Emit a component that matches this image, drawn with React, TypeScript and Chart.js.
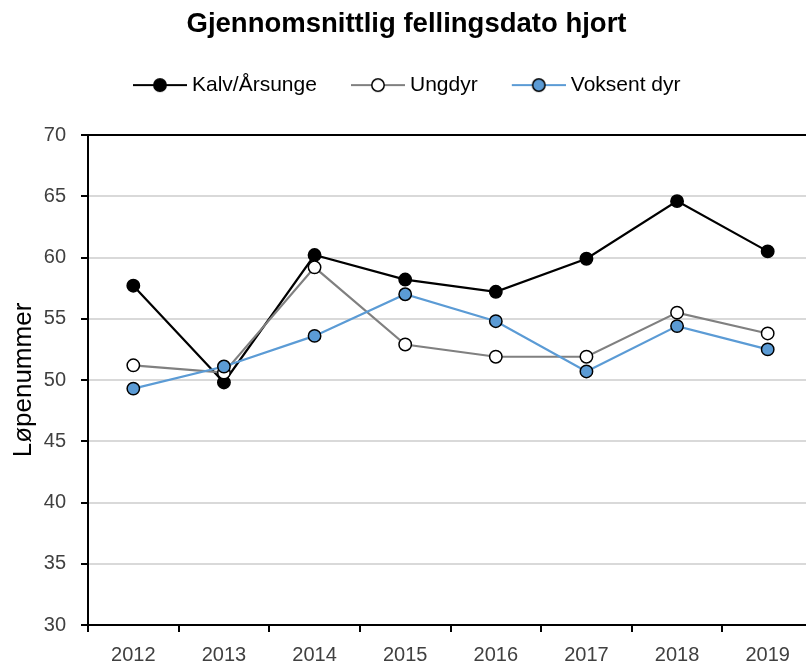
import React, { useEffect, useRef } from "react";
import { Chart, registerables } from "chart.js";

Chart.register(...registerables);

const years = ["2012", "2013", "2014", "2015", "2016", "2017", "2018", "2019"];
const kalv = [57.7, 49.8, 60.2, 58.2, 57.2, 59.9, 64.6, 60.5];
const ungdyr = [51.2, 50.6, 59.2, 52.9, 51.9, 51.9, 55.5, 53.8];
const voksent = [49.3, 51.1, 53.6, 57.0, 54.8, 50.7, 54.4, 52.5];

const titleText = "Gjennomsnittlig fellingsdato hjort";
const yTitle = "Løpenummer";
const seriesNames = ["Kalv/Årsunge", "Ungdyr", "Voksent dyr"];

const FONT = "'Liberation Sans', Arial, sans-serif";

function makeMarker(line: string, fill: string): HTMLCanvasElement {
  const c = document.createElement("canvas");
  const e = 6;
  c.width = 60;
  c.height = 16;
  const ctx = c.getContext("2d")!;
  ctx.strokeStyle = line;
  ctx.lineWidth = 2.2;
  ctx.beginPath();
  ctx.moveTo(e, 8);
  ctx.lineTo(e + 54, 8);
  ctx.stroke();
  ctx.beginPath();
  ctx.arc(e + 27, 8, 6.2, 0, Math.PI * 2);
  ctx.fillStyle = fill;
  ctx.fill();
  ctx.lineWidth = 1.5;
  ctx.strokeStyle = "#000";
  ctx.stroke();
  return c;
}

export default function App() {
  const ref = useRef<HTMLCanvasElement | null>(null);

  useEffect(() => {
    if (!ref.current) return;
    const markers = [
      makeMarker("#000000", "#000000"),
      makeMarker("#808080", "#ffffff"),
      makeMarker("#5b9bd5", "#5b9bd5"),
    ];
    const legendFitPlugin = {
      id: "legendFit",
      beforeInit(chart: any) {
        const orig = chart.legend.fit;
        chart.legend.fit = function () {
          orig.bind(chart.legend)();
          this.height = 94;
        };
      },
    };
    const chart = new Chart(ref.current, {
      type: "line",
      data: {
        labels: years,
        datasets: [
          {
            label: seriesNames[0],
            data: kalv,
            borderColor: "#000000",
            backgroundColor: "#000000",
            pointBackgroundColor: "#000000",
            pointBorderColor: "#000000",
            borderWidth: 2.2,
            pointRadius: 6.2,
            pointBorderWidth: 1.5,
            order: 2,
          },
          {
            label: seriesNames[1],
            data: ungdyr,
            borderColor: "#808080",
            backgroundColor: "#ffffff",
            pointBackgroundColor: "#ffffff",
            pointBorderColor: "#000000",
            borderWidth: 2.2,
            pointRadius: 6.2,
            pointBorderWidth: 1.5,
            order: 1,
          },
          {
            label: seriesNames[2],
            data: voksent,
            borderColor: "#5b9bd5",
            backgroundColor: "#5b9bd5",
            pointBackgroundColor: "#5b9bd5",
            pointBorderColor: "#000000",
            borderWidth: 2.2,
            pointRadius: 6.2,
            pointBorderWidth: 1.5,
            order: 0,
          },
        ],
      },
      options: {
        responsive: false,
        animation: false,
        layout: { padding: { left: 0, right: 17, top: 0, bottom: 0 } },
        plugins: {
          tooltip: { enabled: false },
          title: {
            display: true,
            text: titleText,
            color: "#000000",
            font: { family: FONT, size: 27.5, weight: "bold" },
            padding: { top: 8, bottom: 0 },
          },
          legend: {
            display: true,
            position: "top",
            labels: {
              usePointStyle: true,
              pointStyleWidth: 49,
              padding: 33.6,
              color: "#404040",
              font: { family: FONT, size: 21 },
              generateLabels: (ch: any) =>
                ch.data.datasets.map((ds: any, i: number) => ({
                  text: ds.label,
                  pointStyle: markers[i],
                  fillStyle: ds.backgroundColor,
                  strokeStyle: ds.borderColor,
                  lineWidth: 0,
                  hidden: false,
                  datasetIndex: i,
                })),
            },
          },
        },
        scales: {
          x: {
            offset: true,
            grid: {
              offset: true,
              drawOnChartArea: false,
              drawTicks: true,
              tickLength: 7,
              color: "#000000",
              lineWidth: 2,
            },
            border: { display: true, color: "#000000", width: 2 },
            ticks: {
              color: "#404040",
              font: { family: FONT, size: 20 },
              padding: 11,
              maxRotation: 0,
            },
            afterFit: (s: any) => {
              s.height = 42;
            },
          },
          y: {
            min: 30,
            max: 70,
            ticks: {
              stepSize: 5,
              color: "#404040",
              font: { family: FONT, size: 20 },
              padding: 15,
            },
            grid: {
              color: (c: any) =>
                c.tick && (c.tick.value === 70 || c.tick.value === 30) ? "#000000" : "#d9d9d9",
              tickColor: "#000000",
              lineWidth: 2,
              tickLength: 7,
            },
            border: { display: true, color: "#000000", width: 2 },
            title: {
              display: true,
              text: yTitle,
              color: "#000000",
              font: { family: FONT, size: 26 },
              padding: { top: 8, bottom: 0 },
            },
            afterFit: (s: any) => {
              s.width = 88;
            },
          },
        },
      },
      plugins: [legendFitPlugin],
    });
    return () => chart.destroy();
  }, []);

  return (
    <div
      style={{
        position: "fixed",
        left: 0,
        top: 0,
        width: 806,
        height: 667,
        overflow: "hidden",
        background: "#ffffff",
      }}
    >
      <canvas ref={ref} width={830} height={667} style={{ display: "block" }} />
    </div>
  );
}
